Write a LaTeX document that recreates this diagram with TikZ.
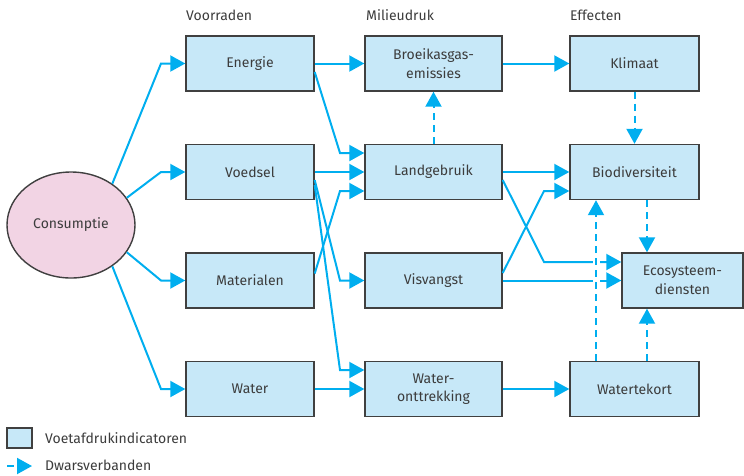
\documentclass[tikz,border=0pt]{standalone}
\usepackage{fontspec}
\setmainfont{Fira Sans}
\usetikzlibrary{arrows.meta,shapes.geometric}
\definecolor{arrc}{RGB}{0,174,239}
\definecolor{boxfill}{RGB}{199,232,248}
\definecolor{boxline}{RGB}{64,64,64}
\definecolor{pinkfill}{RGB}{242,212,228}
\definecolor{txt}{RGB}{60,60,60}
\tikzset{
  fbox/.style={draw=boxline, line width=1.4pt, fill=boxfill, minimum height=55pt, inner sep=0pt, align=center, text=txt, font=\fontsize{14}{18.5}\selectfont},
  hdr/.style={anchor=west, text=txt, inner sep=0pt, font=\fontsize{14}{18}\selectfont},
  arr/.style={draw=arrc, line width=2pt, -{Triangle[length=15pt,width=16pt]}},
  darr/.style={arr, dash pattern=on 7pt off 5pt},
  halo/.style={preaction={draw=white, line width=7pt, solid, -}}
}
\begin{document}
\begin{tikzpicture}[x=1pt,y=-1pt]
\useasboundingbox (0,0) rectangle (744,475);
% headers
\node[hdr] (h1) at (186,15) {Voorraden};
\node[hdr] (h2) at (366,15) {Milieudruk};
\node[hdr] (h3) at (570,15) {Effecten};
% consumption
\node[ellipse, draw=boxline, line width=1.4pt, fill=pinkfill, minimum width=128pt, minimum height=106pt, inner sep=0pt, text=txt, font=\fontsize{14}{18}\selectfont] (cons) at (71,225) {Consumptie};
% column 1
\node[fbox, minimum width=128pt] (energie) at (250,63.5) {Energie};
\node[fbox, minimum width=128pt] (voedsel) at (250,172) {Voedsel};
\node[fbox, minimum width=128pt] (mat) at (250,280.5) {Materialen};
\node[fbox, minimum width=128pt] (water) at (250,389) {Water};
% column 2
\node[fbox, minimum width=137pt] (broeikas) at (433.5,63.5) {Broeikasgas-\\emissies};
\node[fbox, minimum width=137pt] (land) at (433.5,172) {Landgebruik};
\node[fbox, minimum width=137pt] (vis) at (433.5,280.5) {Visvangst};
\node[fbox, minimum width=137pt] (wo) at (433.5,389) {Water-\\onttrekking};
% column 3
\node[fbox, minimum width=129pt] (klimaat) at (634.5,63.5) {Klimaat};
\node[fbox, minimum width=129pt] (bio) at (634.5,172) {Biodiversiteit};
\node[fbox, minimum width=121pt] (eco) at (682.5,280.5) {Ecosysteem-\\diensten};
\node[fbox, minimum width=129pt] (wt) at (634.5,389) {Watertekort};
% legend
\node[fbox, minimum width=25pt, minimum height=20pt] (legbox) at (19.5,438) {};
\node[hdr] (legt1) at (45,438) {Voetafdrukindicatoren};
\coordinate (la) at (7,466);
\coordinate (lb) at (32,466);
\draw[darr] (la) -- (lb);
\node[hdr] (legt2) at (45,465) {Dwarsverbanden};
% consumption arrows
\draw[arr] (cons.45) -- (161,63.5) -- (energie.west);
\draw[arr] (cons.26) -- (161,172) -- (voedsel.west);
\draw[arr] (cons.-26) -- (161,280.5) -- (mat.west);
\draw[arr] (cons.-45) -- (161,389) -- (water.west);
% column 1 -> 2
\draw[arr] (energie.east) -- (broeikas.west);
\draw[arr] ([yshift=-8.5pt]energie.east) -- (340,153) -- ([yshift=19pt]land.west);
\draw[arr] (voedsel.east) -- (land.west);
\draw[arr] ([yshift=7pt]mat.east) -- (340,191) -- ([yshift=-19pt]land.west);
\draw[arr] ([yshift=-8pt]voedsel.east) -- (340,280.5) -- (vis.west);
\draw[arr] ([yshift=-13pt]voedsel.east) -- (340,370) -- ([yshift=19pt]wo.west);
\draw[arr] (water.east) -- (wo.west);
% column 2 -> 3
\draw[arr] (broeikas.east) -- (klimaat.west);
\draw[arr] (land.east) -- (bio.west);
\draw[arr] ([yshift=-8pt]land.east) -- (544,262) -- ([yshift=18.5pt]eco.west);
\draw[arr] ([yshift=7.5pt]vis.east) -- (544,191) -- ([yshift=-19pt]bio.west);
\draw[arr] (vis.east) -- (eco.west);
\draw[arr] (wo.east) -- (wt.west);
% cross links
\draw[darr] (land.north) -- (broeikas.south);
\draw[darr] (klimaat.south) -- (bio.north);
\draw[darr] ([xshift=12.5pt]bio.south) coordinate (b1) -- (b1 |- eco.north);
\draw[darr, halo] ([xshift=-38.5pt]wt.north) coordinate (w1) -- (w1 |- bio.south);
\draw[darr] ([xshift=12.5pt]wt.north) coordinate (w2) -- (w2 |- eco.south);
\end{tikzpicture}
\end{document}
